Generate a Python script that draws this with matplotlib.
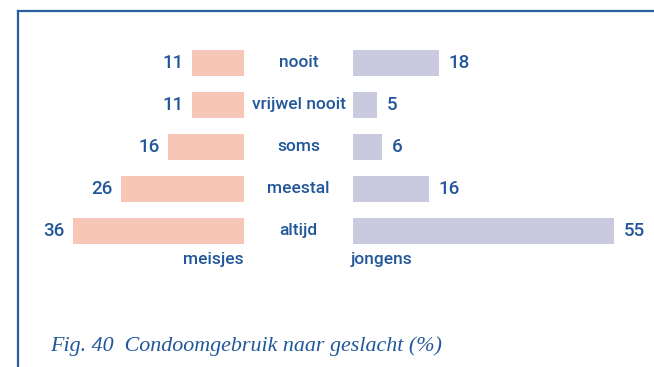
import matplotlib
matplotlib.use("Agg")
import matplotlib.pyplot as plt
from matplotlib.lines import Line2D
from matplotlib.transforms import blended_transform_factory

categories = ["nooit", "vrijwel nooit", "soms", "meestal", "altijd"]
meisjes = [11, 11, 16, 26, 36]
jongens = [18, 5, 6, 16, 55]
group_labels = ["meisjes", "jongens"]
caption = "Fig. 40  Condoomgebruik naar geslacht (%)"

W, H = 654, 367
DPI = 100
text_blue = "#22579b"
frame_blue = "#2a5d9f"
pink = "#f8c6b6"
lilac = "#c9cadf"
sans = ["Roboto", "DejaVu Sans"]

fig = plt.figure(figsize=(W / DPI, H / DPI), dpi=DPI)

px_per_unit = 4.75
row_px = 42.0
first_row_px = 63.0
y_top, y_bot = -1.0, 5.5
ax_top_px = first_row_px + y_top * row_px
ax_bot_px = first_row_px + y_bot * row_px

def fig_box(x0, x1):
    return [x0 / W, 1 - ax_bot_px / H, (x1 - x0) / W, (ax_bot_px - ax_top_px) / H]

left_zero, right_zero = 244.0, 353.0
axL = fig.add_axes(fig_box(20, left_zero))
axR = fig.add_axes(fig_box(right_zero, W))
axL.set_xlim((left_zero - 20) / px_per_unit, 0)
axR.set_xlim(0, (W - right_zero) / px_per_unit)
for ax in (axL, axR):
    ax.set_ylim(y_bot, y_top)
    ax.axis("off")

ypos = list(range(len(categories)))
bar_h = 26 / row_px
axL.barh(ypos, meisjes, height=bar_h, color=pink)
axR.barh(ypos, jongens, height=bar_h, color=lilac)

fs = 12.5
wt = "medium"
for y, v in zip(ypos, meisjes):
    axL.text(v + 8 / px_per_unit, y, str(v), ha="right", va="center",
             fontsize=13.5, fontweight=wt, color=text_blue, family=sans)
for y, v in zip(ypos, jongens):
    axR.text(v + 10 / px_per_unit, y, str(v), ha="left", va="center",
             fontsize=13.5, fontweight=wt, color=text_blue, family=sans)

mid = blended_transform_factory(fig.transFigure, axL.transData)
for y, c in zip(ypos, categories):
    fig.text(298.5 / W, y, c, transform=mid, ha="center", va="center",
             fontsize=fs, fontweight=wt, color=text_blue, family=sans)

axL.text(0, 4.67, group_labels[0], ha="right", va="center",
         fontsize=fs, fontweight=wt, color=text_blue, family=sans)
axR.text(-0.6, 4.67, group_labels[1], ha="left", va="center",
         fontsize=fs, fontweight=wt, color=text_blue, family=sans)

fig.text(50 / W, 1 - 346 / H, caption, ha="left", va="center",
         fontsize=15.8, style="italic", color=text_blue,
         family=["Liberation Serif", "DejaVu Serif"])

# frame along the left and top edges
fig.add_artist(Line2D([17.5 / W, 17.5 / W], [0, 1 - 10.5 / H],
                      transform=fig.transFigure, color=frame_blue, lw=1.6))
fig.add_artist(Line2D([17.5 / W, 1], [1 - 10.5 / H, 1 - 10.5 / H],
                      transform=fig.transFigure, color=frame_blue, lw=1.6))

fig.savefig("out.png", dpi=DPI)
